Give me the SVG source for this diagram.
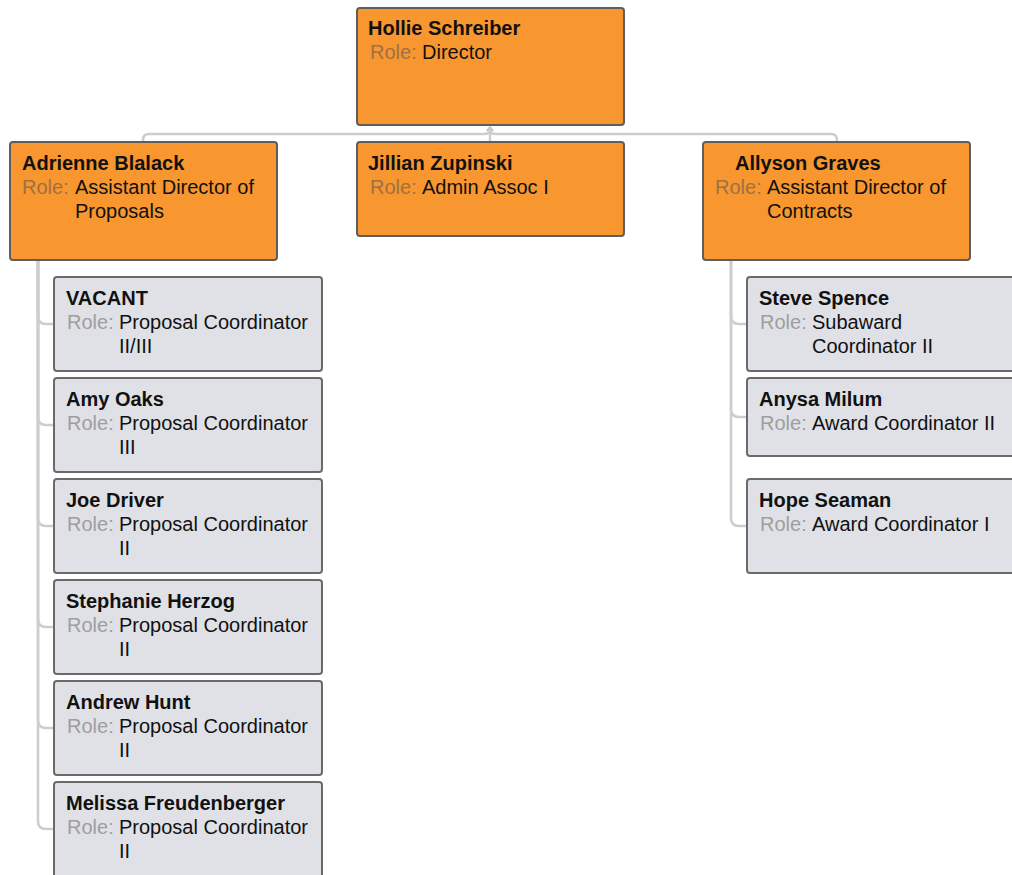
<svg xmlns="http://www.w3.org/2000/svg" width="1012" height="875" viewBox="0 0 1012 875">
<defs>
<style>
.box-o{fill:#F8962F;stroke:#5e5e5e;stroke-width:2}
.box-g{fill:#DFE1E6;stroke:#6a6a6a;stroke-width:2}
.name{font-family:"Liberation Sans",Arial,sans-serif;font-size:20px;font-weight:bold;fill:#111}
.lbl-o{font-family:"Liberation Sans",Arial,sans-serif;font-size:20px;fill:#9E7146}
.lbl-g{font-family:"Liberation Sans",Arial,sans-serif;font-size:20px;fill:#9e9e9e}
.val{font-family:"Liberation Sans",Arial,sans-serif;font-size:20px;fill:#111}
.conn{fill:none;stroke:#cdcdcd;stroke-width:2.5}
</style>
<marker id="arr" markerWidth="8" markerHeight="8" refX="4" refY="1" orient="0" markerUnits="userSpaceOnUse">
<path d="M1,5 L4,1 L7,5" fill="none" stroke="#b5b5b5" stroke-width="1.5"/>
</marker>
</defs>
<rect width="1012" height="875" fill="#ffffff"/>
<g id="connectors">
<path class="conn" d="M490,142 L490,127" marker-end="url(#arr)"/>
<path class="conn" d="M143,142 L143,140 Q143,134 149,134 L484,134 Q490,134 490,130 L490,127"/>
<path class="conn" d="M837,142 L837,140 Q837,134 831,134 L496,134 Q490,134 490,130 L490,127"/>
<path class="conn" d="M54,324 L46,324 Q38,324 38,316 L38,260"/>
<path class="conn" d="M54,425 L46,425 Q38,425 38,417 L38,260"/>
<path class="conn" d="M54,526 L46,526 Q38,526 38,518 L38,260"/>
<path class="conn" d="M54,627 L46,627 Q38,627 38,619 L38,260"/>
<path class="conn" d="M54,728 L46,728 Q38,728 38,720 L38,260"/>
<path class="conn" d="M54,829 L46,829 Q38,829 38,821 L38,260"/>
<path class="conn" d="M747,324 L739,324 Q731,324 731,316 L731,260"/>
<path class="conn" d="M747,417 L739,417 Q731,417 731,409 L731,260"/>
<path class="conn" d="M747,526 L739,526 Q731,526 731,518 L731,260"/>
</g>
<g id="hollie">
<rect class="box-o" x="357" y="8" width="267" height="117" rx="3"/>
<text class="name" x="368" y="35">Hollie Schreiber</text>
<text class="lbl-o" x="370" y="59">Role:</text>
<text class="val" x="422" y="59">Director</text>
</g>
<g id="adrienne">
<rect class="box-o" x="10" y="142" width="267" height="118" rx="3"/>
<text class="name" x="22" y="170">Adrienne Blalack</text>
<text class="lbl-o" x="22" y="194">Role:</text>
<text class="val" x="75" y="194">Assistant Director of</text>
<text class="val" x="75" y="218">Proposals</text>
</g>
<g id="jillian">
<rect class="box-o" x="357" y="142" width="267" height="94" rx="3"/>
<text class="name" x="368" y="170">Jillian Zupinski</text>
<text class="lbl-o" x="370" y="194">Role:</text>
<text class="val" x="422" y="194">Admin Assoc I</text>
</g>
<g id="allyson">
<rect class="box-o" x="703" y="142" width="267" height="118" rx="3"/>
<text class="name" x="735" y="170">Allyson Graves</text>
<text class="lbl-o" x="715" y="194">Role:</text>
<text class="val" x="767" y="194">Assistant Director of</text>
<text class="val" x="767" y="218">Contracts</text>
</g>
<g id="vacant">
<rect class="box-g" x="54" y="277" width="268" height="94" rx="3"/>
<text class="name" x="66" y="305">VACANT</text>
<text class="lbl-g" x="67" y="329">Role:</text>
<text class="val" x="119" y="329">Proposal Coordinator</text>
<text class="val" x="119" y="353">II/III</text>
</g>
<g id="amy">
<rect class="box-g" x="54" y="378" width="268" height="94" rx="3"/>
<text class="name" x="66" y="406">Amy Oaks</text>
<text class="lbl-g" x="67" y="430">Role:</text>
<text class="val" x="119" y="430">Proposal Coordinator</text>
<text class="val" x="119" y="454">III</text>
</g>
<g id="joe">
<rect class="box-g" x="54" y="479" width="268" height="94" rx="3"/>
<text class="name" x="66" y="507">Joe Driver</text>
<text class="lbl-g" x="67" y="531">Role:</text>
<text class="val" x="119" y="531">Proposal Coordinator</text>
<text class="val" x="119" y="555">II</text>
</g>
<g id="stephanie">
<rect class="box-g" x="54" y="580" width="268" height="94" rx="3"/>
<text class="name" x="66" y="608">Stephanie Herzog</text>
<text class="lbl-g" x="67" y="632">Role:</text>
<text class="val" x="119" y="632">Proposal Coordinator</text>
<text class="val" x="119" y="656">II</text>
</g>
<g id="andrew">
<rect class="box-g" x="54" y="681" width="268" height="94" rx="3"/>
<text class="name" x="66" y="709">Andrew Hunt</text>
<text class="lbl-g" x="67" y="733">Role:</text>
<text class="val" x="119" y="733">Proposal Coordinator</text>
<text class="val" x="119" y="757">II</text>
</g>
<g id="melissa">
<rect class="box-g" x="54" y="782" width="268" height="96" rx="3"/>
<text class="name" x="66" y="810">Melissa Freudenberger</text>
<text class="lbl-g" x="67" y="834">Role:</text>
<text class="val" x="119" y="834">Proposal Coordinator</text>
<text class="val" x="119" y="858">II</text>
</g>
<g id="steve">
<rect class="box-g" x="747" y="277" width="268" height="94" rx="3"/>
<text class="name" x="759" y="305">Steve Spence</text>
<text class="lbl-g" x="760" y="329">Role:</text>
<text class="val" x="812" y="329">Subaward</text>
<text class="val" x="812" y="353">Coordinator II</text>
</g>
<g id="anysa">
<rect class="box-g" x="747" y="378" width="268" height="78" rx="3"/>
<text class="name" x="759" y="406">Anysa Milum</text>
<text class="lbl-g" x="760" y="430">Role:</text>
<text class="val" x="812" y="430">Award Coordinator II</text>
</g>
<g id="hope">
<rect class="box-g" x="747" y="479" width="268" height="94" rx="3"/>
<text class="name" x="759" y="507">Hope Seaman</text>
<text class="lbl-g" x="760" y="531">Role:</text>
<text class="val" x="812" y="531">Award Coordinator I</text>
</g>
</svg>
